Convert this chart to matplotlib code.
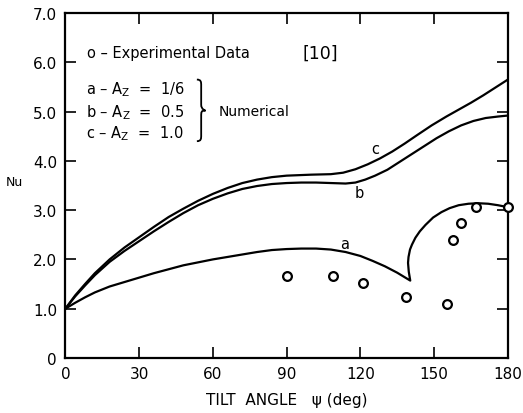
import numpy as np
import matplotlib.pyplot as plt
from matplotlib.path import Path
from matplotlib.patches import PathPatch

# experimental data [10]
exp_psi = [90, 108.8, 120.9, 138.6, 155.3, 157.5, 161, 167, 180]
exp_nu = [1.67, 1.67, 1.53, 1.23, 1.09, 2.40, 2.74, 3.06, 3.06]

# numerical curves
a_psi = [0, 4, 8, 12, 18, 24, 30, 36, 42, 48, 54, 60, 66, 72, 78, 84, 90, 96, 102, 108, 114, 120,
         125, 130, 135, 140.3,
         139.7, 139.4, 139.6, 140.2, 141, 142.4, 144.2, 146.5, 149.6, 153, 156.3, 160, 164, 168, 172, 176, 180]
a_nu = [1.0, 1.12, 1.23, 1.33, 1.45, 1.54, 1.63, 1.72, 1.8, 1.88, 1.94, 2.0, 2.05, 2.1, 2.15, 2.19, 2.21,
        2.22, 2.22, 2.2, 2.15, 2.07, 1.97, 1.86, 1.73, 1.57,
        1.75, 1.93, 2.05, 2.2, 2.3, 2.44, 2.57, 2.7, 2.85, 2.96, 3.04, 3.1, 3.13, 3.14, 3.13, 3.1, 3.06]

b_psi = [0, 4, 8, 12, 18, 24, 30, 36, 42, 48, 54, 60, 66, 72, 78, 84, 90, 96, 102, 108, 114, 118,
         122, 126, 131, 136, 141, 146, 151, 156, 161, 166, 171, 176, 180]
b_nu = [1.0, 1.25, 1.47, 1.68, 1.95, 2.17, 2.37, 2.57, 2.76, 2.94, 3.1, 3.23, 3.34, 3.43, 3.49, 3.53, 3.55,
        3.56, 3.56, 3.55, 3.54, 3.56, 3.62, 3.7, 3.82, 3.98, 4.14, 4.3, 4.46, 4.6, 4.72, 4.81, 4.87, 4.9, 4.92]

c_psi = [0, 4, 8, 12, 18, 24, 30, 36, 42, 48, 54, 60, 66, 72, 78, 84, 90, 100, 108, 113, 118, 123,
         128, 133, 138, 143, 149, 155, 160, 165, 170, 175, 180]
c_nu = [1.0, 1.27, 1.5, 1.72, 2.0, 2.24, 2.45, 2.66, 2.86, 3.03, 3.19, 3.33, 3.45, 3.55, 3.62, 3.67,
        3.7, 3.72, 3.73, 3.76, 3.83, 3.93, 4.05, 4.19, 4.35, 4.52, 4.72, 4.9, 5.04, 5.18, 5.33, 5.49, 5.65]

xticks = [0, 30, 60, 90, 120, 150, 180]
yticks = [0, 1, 2, 3, 4, 5, 6, 7]
ylabels = ['0', '1.0', '2.0', '3.0', '4.0', '5.0', '6.0', '7.0']

plt.rcParams['font.family'] = ['DejaVu Sans']

fig = plt.figure(figsize=(5.23, 4.14), dpi=100)
ax = fig.add_axes([0.125, 0.133, 0.846, 0.833])

for xs, ys in [(a_psi, a_nu), (b_psi, b_nu), (c_psi, c_nu)]:
    ax.plot(xs, ys, color='black', lw=1.6, solid_joinstyle='round', solid_capstyle='round')

ax.plot(exp_psi, exp_nu, 'o', ms=6.3, mfc='white', mec='black', mew=1.6, clip_on=False, zorder=5)

ax.set_xlim(0, 180)
ax.set_ylim(0, 7)
ax.set_xticks(xticks)
ax.set_yticks(yticks)
ax.set_yticklabels(ylabels)
ax.tick_params(direction='in', length=8, width=1.2, top=True, right=True,
               labelsize=11, pad=6)
for s in ax.spines.values():
    s.set_linewidth(1.6)

ax.set_xlabel('TILT  ANGLE   \u03c8 (deg)', fontsize=11, labelpad=8)
ax.text(-0.134, 0.513, 'Nu', transform=ax.transAxes, fontsize=9, ha='left', va='center')

# curve labels
ax.text(126, 4.25, 'c', fontsize=10.5, ha='center', va='center')
ax.text(119.5, 3.36, 'b', fontsize=10.5, ha='center', va='center')
ax.text(113.5, 2.33, 'a', fontsize=10.5, ha='center', va='center')

# legend block
ax.text(9, 6.2, 'o \u2013 Experimental Data', fontsize=10.5, va='center')
ax.text(96.3, 6.2, '[10]', fontsize=12.5, va='center')
ax.text(8.5, 5.46, 'a \u2013 A$_\\mathregular{Z}$  =  1/6', fontsize=10.5, va='center')
ax.text(8.5, 5.0, 'b \u2013 A$_\\mathregular{Z}$  =  0.5', fontsize=10.5, va='center')
ax.text(8.5, 4.58, 'c \u2013 A$_\\mathregular{Z}$  =  1.0', fontsize=10.5, va='center')

# curly brace
bx0, bx1 = 53.5, 57.0
yt, ym, yb = 5.65, 5.02, 4.4
bxm = (bx0 + bx1) / 2
verts = [(bx0, yt), (bxm, yt), (bxm, yt - 0.05), (bxm, yt - 0.12),
         (bxm, ym + 0.12),
         (bxm, ym + 0.02), (bx1, ym), (bx1, ym),
         (bxm, ym), (bxm, ym - 0.02), (bxm, ym - 0.12),
         (bxm, yb + 0.12),
         (bxm, yb + 0.05), (bxm, yb), (bx0, yb)]
codes = [Path.MOVETO, Path.CURVE4, Path.CURVE4, Path.CURVE4,
         Path.LINETO,
         Path.CURVE4, Path.CURVE4, Path.CURVE4,
         Path.CURVE4, Path.CURVE4, Path.CURVE4,
         Path.LINETO,
         Path.CURVE4, Path.CURVE4, Path.CURVE4]
ax.add_patch(PathPatch(Path(verts, codes), fill=False, lw=1.3, color='black'))
ax.text(62.5, 5.02, 'Numerical', fontsize=10, va='center')

fig.savefig('out.png', dpi=100)
